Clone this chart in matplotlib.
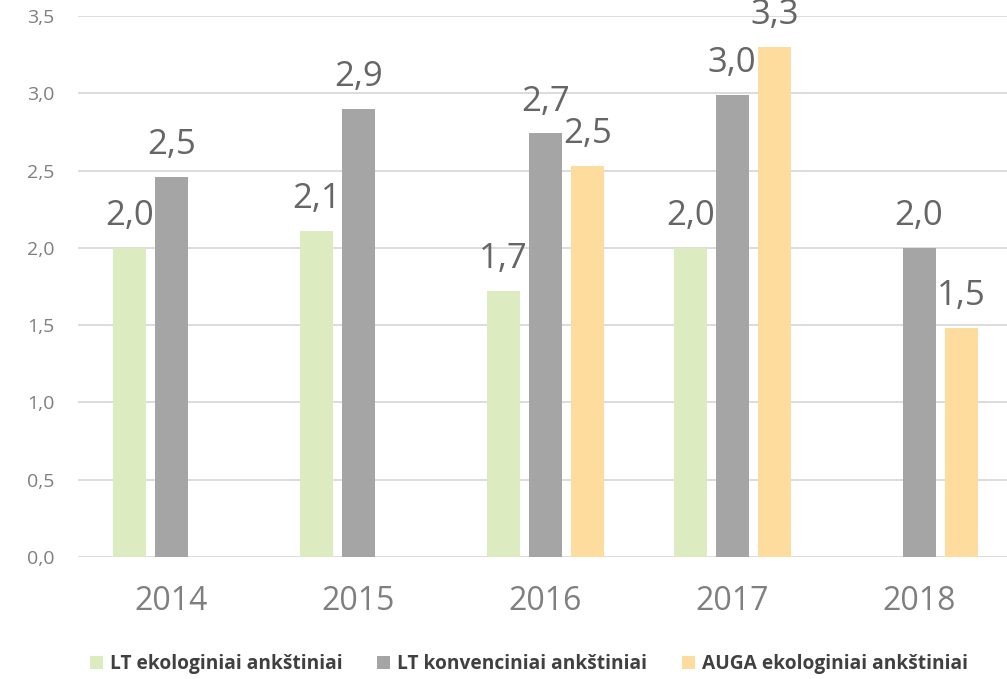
import numpy as np
import matplotlib
matplotlib.use("Agg")
import matplotlib.pyplot as plt
from matplotlib.patches import Patch

years = ["2014", "2015", "2016", "2017", "2018"]
lt_eko = [2.0, 2.11, 1.72, 2.0, np.nan]
lt_konv = [2.46, 2.9, 2.74, 2.99, 2.0]
auga_eko = [np.nan, np.nan, 2.53, 3.3, 1.48]
series_names = ["LT ekologiniai ankštiniai", "LT konvenciniai ankštiniai", "AUGA ekologiniai ankštiniai"]
colors = ["#DDEBC0", "#A5A5A5", "#FDDC9D"]
yticks = [0.0, 0.5, 1.0, 1.5, 2.0, 2.5, 3.0, 3.5]

plt.rcParams['font.family'] = ['Open Sans', 'DejaVu Sans']

fig = plt.figure(figsize=(10.07, 6.79), dpi=100)
ax = fig.add_axes([0.0775, 0.1797, 0.928, 0.7967])

x = np.arange(len(years))
w = 0.177
step = 0.225
for i, vals in enumerate([lt_eko, lt_konv, auga_eko]):
    pos = x + (i - 1) * step
    ax.bar(pos, vals, width=w, color=colors[i], zorder=3)
    for px, v in zip(pos, vals):
        if np.isnan(v):
            continue
        ax.annotate(("%.1f" % v).replace(".", ","), (px, v), xytext=(0, 16.5),
                    textcoords="offset points", ha="center", va="baseline",
                    fontsize=25, color="#666666")

ax.set_xlim(-0.5, len(years) - 0.5)
ax.set_ylim(0, 3.5)
ax.set_yticks(yticks)
ax.set_yticklabels([("%.1f" % t).replace(".", ",") for t in yticks])
ax.set_xticks(x)
ax.set_xticklabels(years)
ax.tick_params(axis="y", length=0, pad=17, labelsize=14, labelcolor="#7f7f7f")
ax.tick_params(axis="x", length=0, pad=20, labelsize=23, labelcolor="#7f7f7f")
ax.grid(axis="y", color="#d9d9d9", linewidth=1.3, zorder=0)
for s in ax.spines.values():
    s.set_visible(False)

handles = [Patch(facecolor=c, edgecolor="none") for c in colors]
leg = fig.legend(handles, series_names, loc="center", bbox_to_anchor=(0.525, 0.022),
                 ncol=3, frameon=False, handlelength=0.7, handleheight=0.7,
                 handletextpad=0.35, columnspacing=1.8,
                 prop={"weight": "bold", "size": 13.8})
for t in leg.get_texts():
    t.set_color("#404040")

fig.savefig("out.png", dpi=100)
